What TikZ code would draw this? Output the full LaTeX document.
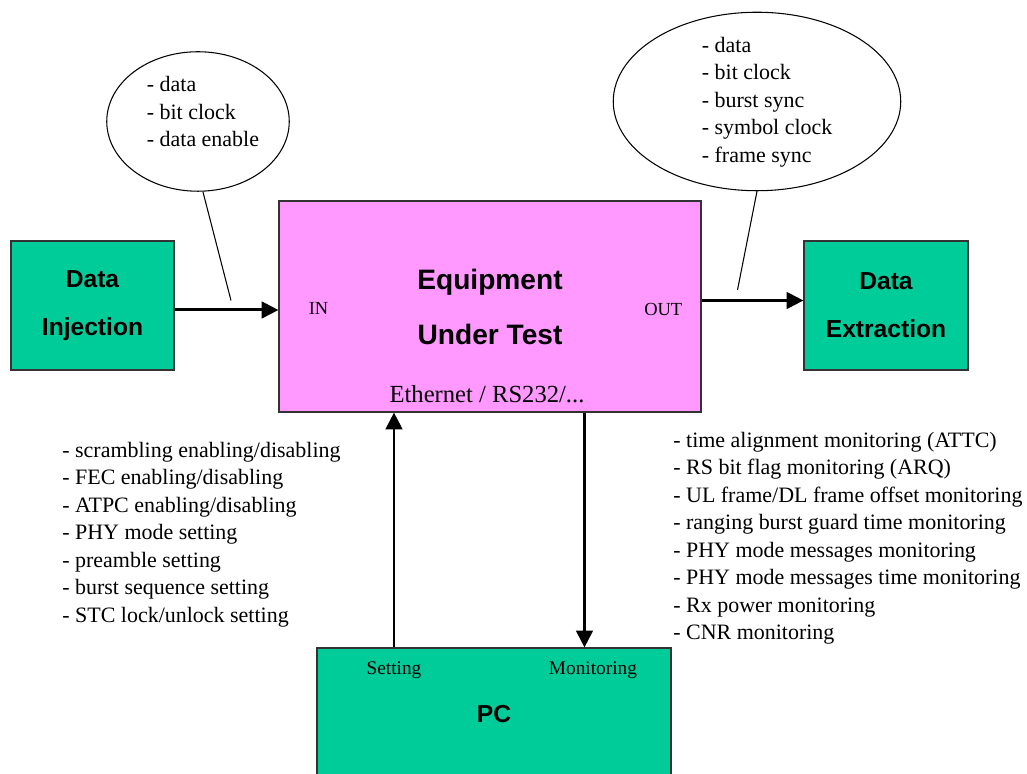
\documentclass[tikz,border=0pt]{standalone}
\usepackage{fontspec}
\setmainfont{Liberation Serif}
\setsansfont{Liberation Sans}
\usetikzlibrary{arrows.meta,shapes.geometric,positioning}
\definecolor{boxgreen}{RGB}{0,204,153}
\definecolor{eutpink}{RGB}{255,153,255}

\begin{document}
\begin{tikzpicture}[
    box/.style={draw=black!80, line width=0.6pt, inner sep=0pt, align=center},
    bubble/.style={draw, ellipse, line width=0.6pt, inner sep=0pt},
    note/.style={inner sep=0pt, align=left, font=\fontsize{12.5}{15.65}\selectfont},
    tag/.style={inner sep=0pt},
    arrow/.style={line width=1.7pt, -{Triangle[length=9.6pt,width=9.4pt]}}
  ]
  \useasboundingbox (0,0) rectangle (20.54,15.48);

  % the four blocks
  \node [box, fill=boxgreen, minimum width=3.26cm, minimum height=2.58cm, font=\sffamily\bfseries\fontsize{14}{27.4}\selectfont] (inj) at (1.85,9.37) {Data\\Injection};
  \node [box, fill=eutpink, minimum width=8.44cm, minimum height=4.22cm, font=\sffamily\bfseries\fontsize{16}{31.3}\selectfont] (eut) at (9.8,9.35) {Equipment\\Under Test};
  \node [box, fill=boxgreen, minimum width=3.28cm, minimum height=2.58cm, font=\sffamily\bfseries\fontsize{14}{27.4}\selectfont] (ext) at (17.72,9.37) {Data\\Extraction};
  \node [box, fill=boxgreen, minimum width=7.08cm, minimum height=2.64cm, font=\sffamily\bfseries\fontsize{14}{17}\selectfont] (pc) at (9.88,1.2) {PC};

  \node [tag, anchor=base west, font=\fontsize{10.5}{12}\selectfont] (in) at ([xshift=0.6cm,yshift=-0.17cm]eut.west) {IN};
  \node [tag, anchor=base east, font=\fontsize{10.5}{12}\selectfont] (out) at ([xshift=-0.38cm,yshift=-0.19cm]eut.east) {OUT};
  \node [tag, anchor=base, font=\fontsize{14}{16}\selectfont] (eth) at ([xshift=-0.06cm,yshift=0.21cm]eut.south) {Ethernet / RS232/...};
  \node [tag, anchor=base, font=\fontsize{11}{13}\selectfont] (setting) at ([xshift=-2cm,yshift=-0.54cm]pc.north) {Setting};
  \node [tag, anchor=base, font=\fontsize{11}{13}\selectfont] (monitoring) at ([xshift=1.98cm,yshift=-0.54cm]pc.north) {Monitoring};

  % signal bubbles
  \node [bubble, minimum width=3.65cm, minimum height=2.79cm] (inbub) at (3.96,13.05) {};
  \node [note, anchor=north west] (intxt) at (2.93,13.96) {- data\\- bit clock\\- data enable};
  \node [bubble, minimum width=5.75cm, minimum height=3.57cm] (outbub) at (15.14,13.45) {};
  \node [note, anchor=north west] (outtxt) at (14.03,14.75) {- data\\- bit clock\\- burst sync\\- symbol clock\\- frame sync};
  \coordinate (inpt) at (4.62,9.47);
  \coordinate (outpt) at (14.75,9.68);
  \draw [line width=0.6pt] (inbub.-86) -- (inpt);
  \draw [line width=0.6pt] (outbub.south) -- (outpt);

  % setting and monitoring lists
  \node [note, anchor=north west] (setlist) at (1.24,6.65) {- scrambling enabling/disabling\\- FEC enabling/disabling\\- ATPC enabling/disabling\\- PHY mode setting\\- preamble setting\\- burst sequence setting\\- STC lock/unlock setting};
  \node [note, anchor=north west] (monlist) at (13.46,6.85) {- time alignment monitoring (ATTC)\\- RS bit flag monitoring (ARQ)\\- UL frame/DL frame offset monitoring\\- ranging burst guard time monitoring\\- PHY mode messages monitoring\\- PHY mode messages time monitoring\\- Rx power monitoring\\- CNR monitoring};

  \draw [arrow] ([yshift=-0.09cm]inj.east) -- ([yshift=-0.09cm]inj.east -| eut.west);
  \draw [arrow] ([yshift=0.12cm]eut.east) -- ([yshift=0.12cm]eut.east -| ext.west);
  \draw [arrow] (setting.center |- pc.north) -- (setting.center |- eut.south);
  \draw [arrow] ([xshift=1.89cm]eut.south) -- ([xshift=1.89cm]eut.south |- pc.north);
\end{tikzpicture}
\end{document}
